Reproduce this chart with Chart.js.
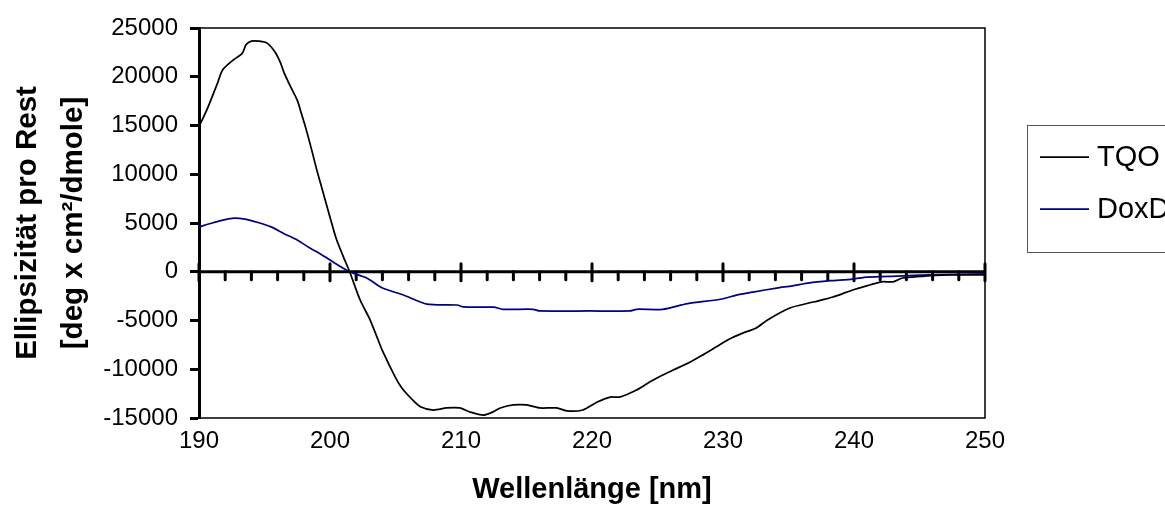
<!DOCTYPE html>
<html>
<head>
<meta charset="utf-8">
<script src="https://cdn.jsdelivr.net/npm/chart.js@4"></script>
<style>
  html, body { margin: 0; padding: 0; background: #fff; }
  #cdChart { display: block; }
</style>
</head>
<body>
<canvas id="cdChart" width="1165" height="520"></canvas>
<script>
// Wavelength (nm) and mean residue ellipticity
const tqoNm = [190, 190.6, 191.4, 191.8, 192.6, 193.3, 193.6, 194.0, 194.6, 195.2, 195.8, 196.2, 196.5, 197.0, 197.5, 197.8, 198.2, 198.6, 199.0, 199.5, 200.0, 200.5, 201.0, 201.5, 202.3, 203.05, 203.5, 204.0, 205.0, 205.5, 206.2, 206.9, 207.9, 208.9, 209.9, 210.7, 211.7, 212.4, 213.0, 214.0, 215.0, 216.0, 217.3, 218.1, 219.3, 220.4, 221.4, 222.1, 223.4, 224.4, 225.4, 226.2, 227.5, 228.5, 229.5, 230.5, 231.5, 232.5, 233.4, 235.1, 236.9, 238.4, 239.9, 241.2, 242.1, 243.0, 243.7, 244.5, 247.1, 250];
const tqoVal = [14900, 16600, 19300, 20700, 21700, 22400, 23300, 23650, 23650, 23450, 22550, 21500, 20400, 18950, 17600, 16300, 14500, 12500, 10400, 8000, 5600, 3300, 1600, 0, -2900, -4900, -6400, -8100, -10850, -11950, -13000, -13850, -14180, -13970, -13970, -14390, -14700, -14400, -13970, -13660, -13660, -13970, -13970, -14280, -14180, -13360, -12850, -12850, -12130, -11310, -10590, -10080, -9260, -8500, -7700, -6900, -6300, -5800, -4940, -3720, -3100, -2590, -1870, -1360, -1030, -1030, -640, -540, -330, -330];

const doxNm = [190, 191, 192, 192.7, 193.5, 194.5, 195.5, 196.5, 197.5, 198.5, 199.3, 200.0, 201.5, 202.8, 204.0, 205.6, 207.4, 209.7, 210.2, 212.5, 213.2, 215.5, 216.0, 219.8, 222.9, 223.4, 225.4, 227.3, 229.8, 231.1, 232.3, 234.1, 235.3, 236.6, 238.2, 239.9, 241.0, 243.3, 245.8, 250];
const doxVal = [4600, 5000, 5350, 5500, 5400, 5050, 4600, 3900, 3250, 2400, 1800, 1200, 0, -640, -1670, -2380, -3310, -3410, -3610, -3640, -3850, -3850, -4020, -4020, -4020, -3850, -3850, -3260, -2820, -2380, -2080, -1670, -1440, -1130, -920, -750, -540, -440, -330, -230];

const seriesNames = ["TQO", "DoxD"];
const seriesColors = ["#000000", "#000080"];

const xTicks = [190, 200, 210, 220, 230, 240, 250];
const yTicks = [-15000, -10000, -5000, 0, 5000, 10000, 15000, 20000, 25000];

const FONT = "'Liberation Sans', Arial, sans-serif";

function toPoints(xs, ys) {
    return xs.map((x, i) => ({ x: x, y: ys[i] }));
}

// plot frame + zero axis with Excel-like tick marks
const framePlugin = {
    id: "frame",
    beforeDatasetsDraw(chart) {
        const { ctx, chartArea: a, scales } = chart;
        const xs = scales.x, ys = scales.y;
        ctx.save();
        ctx.strokeStyle = "#000";
        ctx.lineWidth = 1.5;
        ctx.beginPath();
        ctx.moveTo(a.left, a.top);
        ctx.lineTo(a.right, a.top);
        ctx.lineTo(a.right, a.bottom);
        ctx.lineTo(a.left, a.bottom);
        ctx.stroke();

        const y0 = ys.getPixelForValue(0);
        ctx.lineWidth = 3;
        ctx.beginPath();
        ctx.moveTo(a.left, y0);
        ctx.lineTo(a.right, y0);
        ctx.stroke();

        ctx.lineCap = "round";
        for (let v = 190; v <= 250; v += 2) {
            const px = xs.getPixelForValue(v);
            ctx.beginPath();
            if (v % 10 === 0) {
                ctx.moveTo(px, y0 - 8);
                ctx.lineTo(px, y0 + 9);
            } else {
                ctx.moveTo(px, y0);
                ctx.lineTo(px, y0 + 8);
            }
            ctx.stroke();
        }
        ctx.restore();
    },
    afterDraw(chart) {
        // legend box, cut off by the right edge as in the original
        const ctx = chart.ctx;
        ctx.save();
        ctx.fillStyle = "#fff";
        ctx.strokeStyle = "#555";
        ctx.lineWidth = 1;
        ctx.fillRect(1027.5, 125.5, 160, 127);
        ctx.strokeRect(1027.5, 125.5, 160, 127);
        const rows = [157, 209];
        ctx.font = "29px " + FONT;
        ctx.textBaseline = "middle";
        seriesNames.forEach((name, i) => {
            ctx.strokeStyle = seriesColors[i];
            ctx.lineWidth = 1.75;
            ctx.beginPath();
            ctx.moveTo(1040, rows[i]);
            ctx.lineTo(1089, rows[i]);
            ctx.stroke();
            ctx.fillStyle = "#000";
            ctx.fillText(name, 1097, rows[i] + 1);
        });
        ctx.restore();
    }
};

new Chart(document.getElementById("cdChart"), {
    type: "line",
    data: {
        datasets: [
            {
                label: seriesNames[0],
                data: toPoints(tqoNm, tqoVal),
                borderColor: seriesColors[0],
                borderWidth: 1.75,
                pointRadius: 0,
                tension: 0.25,
                fill: false
            },
            {
                label: seriesNames[1],
                data: toPoints(doxNm, doxVal),
                borderColor: seriesColors[1],
                borderWidth: 1.75,
                pointRadius: 0,
                tension: 0.25,
                fill: false
            }
        ]
    },
    options: {
        responsive: false,
        animation: false,
        devicePixelRatio: 1,
        layout: { padding: { top: 28, right: 180, left: 0, bottom: 0 } },
        plugins: {
            legend: { display: false },
            tooltip: { enabled: false }
        },
        scales: {
            x: {
                type: "linear",
                min: 190,
                max: 250,
                afterBuildTicks: (s) => { s.ticks = xTicks.map(v => ({ value: v })); },
                afterFit: (s) => { s.height = 102; },
                grid: { display: false, drawTicks: false },
                border: { display: false },
                ticks: {
                    padding: 9,
                    color: "#000",
                    maxRotation: 0,
                    font: { family: FONT, size: 24 }
                },
                title: {
                    display: true,
                    text: "Wellenlänge [nm]",
                    color: "#000",
                    padding: { top: 0, bottom: 13 },
                    font: { family: FONT, size: 29, weight: "bold" }
                }
            },
            y: {
                type: "linear",
                min: -15000,
                max: 25000,
                afterBuildTicks: (s) => { s.ticks = yTicks.map(v => ({ value: v })); },
                afterFit: (s) => { s.width = 199; },
                grid: {
                    drawOnChartArea: false,
                    drawTicks: true,
                    tickLength: 9,
                    tickColor: "#000",
                    tickWidth: 3,
                    color: "#000"
                },
                border: { display: true, color: "#000", width: 3 },
                ticks: {
                    padding: 12,
                    color: "#000",
                    font: { family: FONT, size: 24 },
                    callback: (v) => String(v)
                },
                title: {
                    display: true,
                    text: ["Ellipsizität pro Rest", "[deg x cm²/dmole]"],
                    color: "#000",
                    padding: { top: 5, bottom: 0 },
                    font: { family: FONT, size: 29.5, weight: "bold", lineHeight: 1.55 }
                }
            }
        }
    },
    plugins: [framePlugin]
});
</script>
</body>
</html>
